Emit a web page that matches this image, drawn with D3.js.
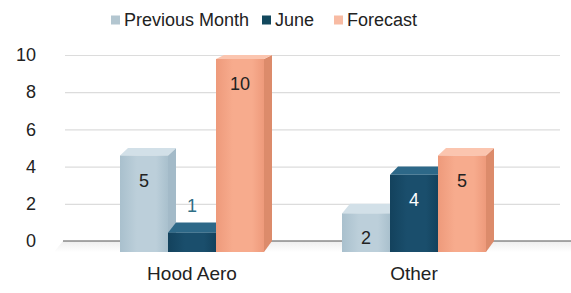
<!DOCTYPE html>
<html>
<head>
<meta charset="utf-8">
<title>3D clustered bars</title>
<script src="https://cdn.jsdelivr.net/npm/d3@7/dist/d3.min.js"></script>
<style>
    body { margin: 0; background: #fff; }
    svg text { font-family: "Liberation Sans", Arial, sans-serif; fill: #222; }
    .grid line { stroke: #dcdcdc; stroke-width: 1.2; }
    .grid path { display: none; }
</style>
</head>
<body>
<svg id="mainsvg" width="571" height="293"></svg>
<script>
    // data
    const categories = ["Hood Aero", "Other"];
    const seriesNames = ["Previous Month", "June", "Forecast"];
    const previousMonth = [5, 2];
    const june = [1, 4];
    const forecast = [10, 5];
    const yTicks = [0, 2, 4, 6, 8, 10];

    const values = [previousMonth, june, forecast];

    // colours per series: front, side, top, legend
    const pal = {
        "Previous Month": { front: "#bccfda", edge: "#a9c0cd", side: "#a3bac8", top: "#d2e0e8", legend: "#b3c6d0", label: "#222" },
        "June": { front: "#1a4e6c", edge: "#13425d", side: "#0f374e", top: "#2d6888", legend: "#12485d", label: "#fff" },
        "Forecast": { front: "#f7ab8d", edge: "#ee9a7b", side: "#dc8b6b", top: "#fbc5af", legend: "#f8bba3", label: "#222" }
    };

    const svg = d3.select('#mainsvg');
    const depth = 8;

    const x0 = d3.scaleBand().domain(categories).range([81, 525]);
    const x1 = d3.scaleBand().domain(seriesNames).range([0, x0.bandwidth()])
        .paddingInner(0).paddingOuter(0.8125);
    const yBack = d3.scaleLinear().domain([0, 10]).range([241, 55]);
    const yFront = d3.scaleLinear().domain([0, 10]).range([252, 59]);

    // gradients for the front faces
    const defs = svg.append('defs');
    seriesNames.forEach((s, i) => {
        const gr = defs.append('linearGradient').attr('id', 'grad' + i)
            .attr('x1', 0).attr('x2', 1).attr('y1', 0).attr('y2', 0);
        gr.append('stop').attr('offset', '0%').attr('stop-color', pal[s].edge);
        gr.append('stop').attr('offset', '35%').attr('stop-color', pal[s].front);
        gr.append('stop').attr('offset', '75%').attr('stop-color', pal[s].front);
        gr.append('stop').attr('offset', '100%').attr('stop-color', pal[s].edge);
    });
    const floorGrad = defs.append('linearGradient').attr('id', 'floor')
        .attr('x1', 0).attr('x2', 0).attr('y1', 0).attr('y2', 1);
    floorGrad.append('stop').attr('offset', '0%').attr('stop-color', '#e6e6e6');
    floorGrad.append('stop').attr('offset', '100%').attr('stop-color', '#fff');

    // floor
    svg.append('polygon')
        .attr('points', [[54, yFront(0)], [63, yBack(0)], [571, yBack(0)], [571, yFront(0)]].join(' '))
        .attr('fill', 'url(#floor)').attr('opacity', 0.7);

    // gridlines
    svg.append('g').attr('class', 'grid')
        .attr('transform', 'translate(65,0)')
        .call(d3.axisLeft(yBack).tickValues(yTicks.filter(t => t > 0)).tickSize(-495).tickFormat(''));

    // zero line
    svg.append('line')
        .attr('x1', 63).attr('x2', 571)
        .attr('y1', yBack(0)).attr('y2', yBack(0))
        .attr('stroke', '#555').attr('stroke-width', 1.2);

    // y tick labels
    const yAxis = svg.append('g').attr('transform', 'translate(36,0)')
        .call(d3.axisLeft(yBack).tickValues(yTicks).tickSize(0).tickPadding(0));
    yAxis.select('.domain').remove();
    yAxis.selectAll('text').attr('font-size', 18).style('fill', '#222');

    // bars
    const bars = [];
    categories.forEach((c, ci) => {
        seriesNames.forEach((s, si) => {
            bars.push({ cat: c, series: s, si: si, value: values[si][ci] });
        });
    });

    const bg = svg.append('g').selectAll('g').data(bars).join('g');

    bg.each(function (d) {
        const g = d3.select(this);
        const x = x0(d.cat) + x1(d.series);
        const w = x1.bandwidth();
        const yf = yFront(d.value), yb = yBack(d.value);
        const yf0 = yFront(0), yb0 = yBack(0);
        g.append('polygon')
            .attr('points', [[x + w, yf], [x + w + depth, yb], [x + w + depth, yb0], [x + w, yf0]].join(' '))
            .attr('fill', pal[d.series].side);
        g.append('polygon')
            .attr('points', [[x, yf], [x + depth, yb], [x + w + depth, yb], [x + w, yf]].join(' '))
            .attr('fill', pal[d.series].top);
        g.append('rect')
            .attr('x', x).attr('y', yf)
            .attr('width', w).attr('height', yf0 - yf)
            .attr('fill', 'url(#grad' + d.si + ')');
    });

    // data labels
    svg.append('g').selectAll('text').data(bars).join('text')
        .attr('x', d => x0(d.cat) + x1(d.series) + x1.bandwidth() / 2)
        .attr('y', d => d.value < 2 ? yFront(d.value) - 21 : yFront(d.value) + 31)
        .attr('text-anchor', 'middle')
        .attr('font-size', 18)
        .style('fill', d => d.value < 2 ? "#2f6f86" : pal[d.series].label)
        .text(d => d.value);

    // category labels
    const xAxis = svg.append('g').attr('transform', 'translate(0,264)')
        .call(d3.axisBottom(x0).tickSize(0).tickPadding(2));
    xAxis.select('.domain').remove();
    xAxis.selectAll('text').attr('font-size', 19).style('fill', '#222');

    // legend
    const legendX = [111, 262, 334];
    const legend = svg.append('g').selectAll('g').data(seriesNames).join('g')
        .attr('transform', (d, i) => `translate(${legendX[i]},0)`);
    legend.append('rect')
        .attr('x', 0).attr('y', 15.5).attr('width', 9).attr('height', 9)
        .attr('fill', d => pal[d].legend);
    legend.append('text')
        .attr('x', 13).attr('y', 25.5)
        .attr('font-size', 18)
        .text(d => d);
</script>
</body>
</html>
